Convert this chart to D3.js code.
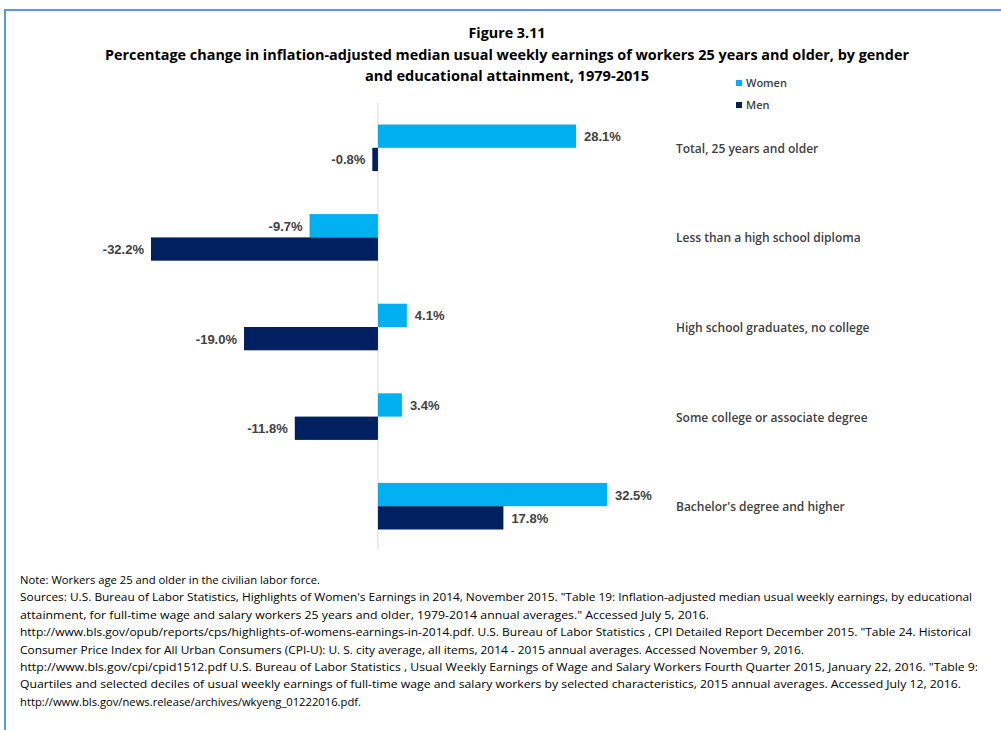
<!DOCTYPE html>
<html>
<head>
<meta charset="utf-8">
<script src="https://cdnjs.cloudflare.com/ajax/libs/d3/7.8.5/d3.min.js"></script>
<style>
  body { margin: 0; background: #fff; }
</style>
</head>
<body>
<div id="chart"></div>
<script>
"use strict";

// data
var categories = ["Total, 25 years and older", "Less than a high school diploma",
  "High school graduates, no college", "Some college or associate degree",
  "Bachelor's degree and higher"];
var women = [28.1, -9.7, 4.1, 3.4, 32.5];
var men = [-0.8, -32.2, -19.0, -11.8, 17.8];
var seriesNames = ["Women", "Men"];
var seriesColors = ["#00B0F0", "#002060"];

var titleLines = ["Figure 3.11",
  "Percentage change in inflation-adjusted median usual weekly earnings of workers 25 years and older, by gender",
  "and educational attainment, 1979-2015"];

var notes = [
  "Note: Workers age 25 and older in the civilian labor force.",
  "Sources: U.S. Bureau of Labor Statistics, Highlights of Women's Earnings in 2014, November 2015. \"Table 19: Inflation-adjusted median usual weekly earnings, by educational",
  "attainment, for full-time wage and salary workers 25 years and older, 1979-2014 annual averages.\" Accessed July 5, 2016.",
  "http://www.bls.gov/opub/reports/cps/highlights-of-womens-earnings-in-2014.pdf. U.S. Bureau of Labor Statistics , CPI Detailed Report December 2015. \"Table 24. Historical",
  "Consumer Price Index for All Urban Consumers (CPI-U): U. S. city average, all items, 2014 - 2015 annual averages. Accessed November 9, 2016.",
  "http://www.bls.gov/cpi/cpid1512.pdf U.S. Bureau of Labor Statistics , Usual Weekly Earnings of Wage and Salary Workers Fourth Quarter 2015, January 22, 2016. \"Table 9:",
  "Quartiles and selected deciles of usual weekly earnings of full-time wage and salary workers by selected characteristics, 2015 annual averages. Accessed July 12, 2016.",
  "http://www.bls.gov/news.release/archives/wkyeng_01222016.pdf."
];
var noteWidths = [300, 952, 689, 951, 784, 958, 941, 341];

var w = 1001, h = 730;
var svg = d3.select("#chart").append("svg")
  .attr("width", w).attr("height", h);

// frame lines (top + left)
svg.append("line").attr("x1", 5).attr("x2", w).attr("y1", 10).attr("y2", 10)
  .attr("stroke", "#5B9BD5").attr("stroke-width", 2);
svg.append("line").attr("x1", 5).attr("x2", 5).attr("y1", 9).attr("y2", h)
  .attr("stroke", "#5B9BD5").attr("stroke-width", 2);

// title
var titleY = [38, 60, 81];
var titleWidths = [77, 804, 284];
svg.selectAll("text.title").data(titleLines).enter().append("text")
  .attr("class", "title")
  .attr("x", 507).attr("y", function(d, i) { return titleY[i]; })
  .attr("text-anchor", "middle")
  .attr("font-family", "'Open Sans', sans-serif")
  .attr("font-weight", "bold").attr("font-size", 14.5)
  .attr("fill", "#000")
  .attr("textLength", function(d, i) { return titleWidths[i]; })
  .attr("lengthAdjust", "spacingAndGlyphs")
  .text(function(d) { return d; });

// scales
var x = d3.scaleLinear().domain([-32.2, 32.5]).range([151, 607]);
var y0 = d3.scaleBand().domain(categories).range([103, 551]).paddingInner(0.48).paddingOuter(0.24);
var y1 = d3.scaleBand().domain(seriesNames).range([0, y0.bandwidth()]);

var rows = categories.map(function(c, i) { return { cat: c, vals: [women[i], men[i]] }; });

// zero line
svg.append("line")
  .attr("x1", x(0)).attr("x2", x(0)).attr("y1", 103).attr("y2", 549)
  .attr("stroke", "#D9D9D9").attr("stroke-width", 1);

var g = svg.selectAll("g.cat").data(rows).enter().append("g")
  .attr("class", "cat")
  .attr("transform", function(d) { return "translate(0," + y0(d.cat) + ")"; });

g.selectAll("rect").data(function(d) { return d.vals; }).enter().append("rect")
  .attr("x", function(d) { return x(Math.min(0, d)); })
  .attr("y", function(d, i) { return y1(seriesNames[i]); })
  .attr("width", function(d) { return Math.abs(x(d) - x(0)); })
  .attr("height", y1.bandwidth())
  .attr("fill", function(d, i) { return seriesColors[i]; });

g.selectAll("text.val").data(function(d) { return d.vals; }).enter().append("text")
  .attr("class", "val")
  .attr("x", function(d) { return d < 0 ? x(d) - 7 : x(d) + 8; })
  .attr("y", function(d, i) { return y1(seriesNames[i]) + y1.bandwidth() / 2 + 5; })
  .attr("text-anchor", function(d) { return d < 0 ? "end" : "start"; })
  .attr("font-family", "'Liberation Sans', Arial, sans-serif")
  .attr("font-weight", "bold").attr("font-size", 13)
  .attr("fill", "#404040")
  .text(function(d) { return d.toFixed(1) + "%"; });

// category labels on the right
g.append("text")
  .attr("x", 676)
  .attr("y", y0.bandwidth() / 2 + 5)
  .attr("font-family", "'Open Sans', sans-serif")
  .attr("font-weight", "600").attr("font-size", 12)
  .attr("fill", "#404040")
  .text(function(d) { return d.cat; });

// legend
var leg = svg.selectAll("g.leg").data(seriesNames).enter().append("g")
  .attr("class", "leg")
  .attr("transform", function(d, i) { return "translate(736," + (80 + i * 22) + ")"; });
leg.append("rect").attr("width", 6).attr("height", 6)
  .attr("fill", function(d, i) { return seriesColors[i]; });
leg.append("text").attr("x", 10).attr("y", 7)
  .attr("font-family", "'Open Sans', sans-serif")
  .attr("font-weight", "600").attr("font-size", 11)
  .attr("fill", "#404040")
  .text(function(d) { return d; });

// notes
svg.selectAll("text.note").data(notes).enter().append("text")
  .attr("class", "note")
  .attr("x", 20).attr("y", function(d, i) { return 584 + i * 17.4; })
  .attr("font-family", "'Open Sans', sans-serif")
  .attr("font-size", 11.5)
  .attr("fill", "#000")
  .attr("textLength", function(d, i) { return noteWidths[i]; })
  .attr("lengthAdjust", "spacingAndGlyphs")
  .text(function(d) { return d; });
</script>
</body>
</html>
